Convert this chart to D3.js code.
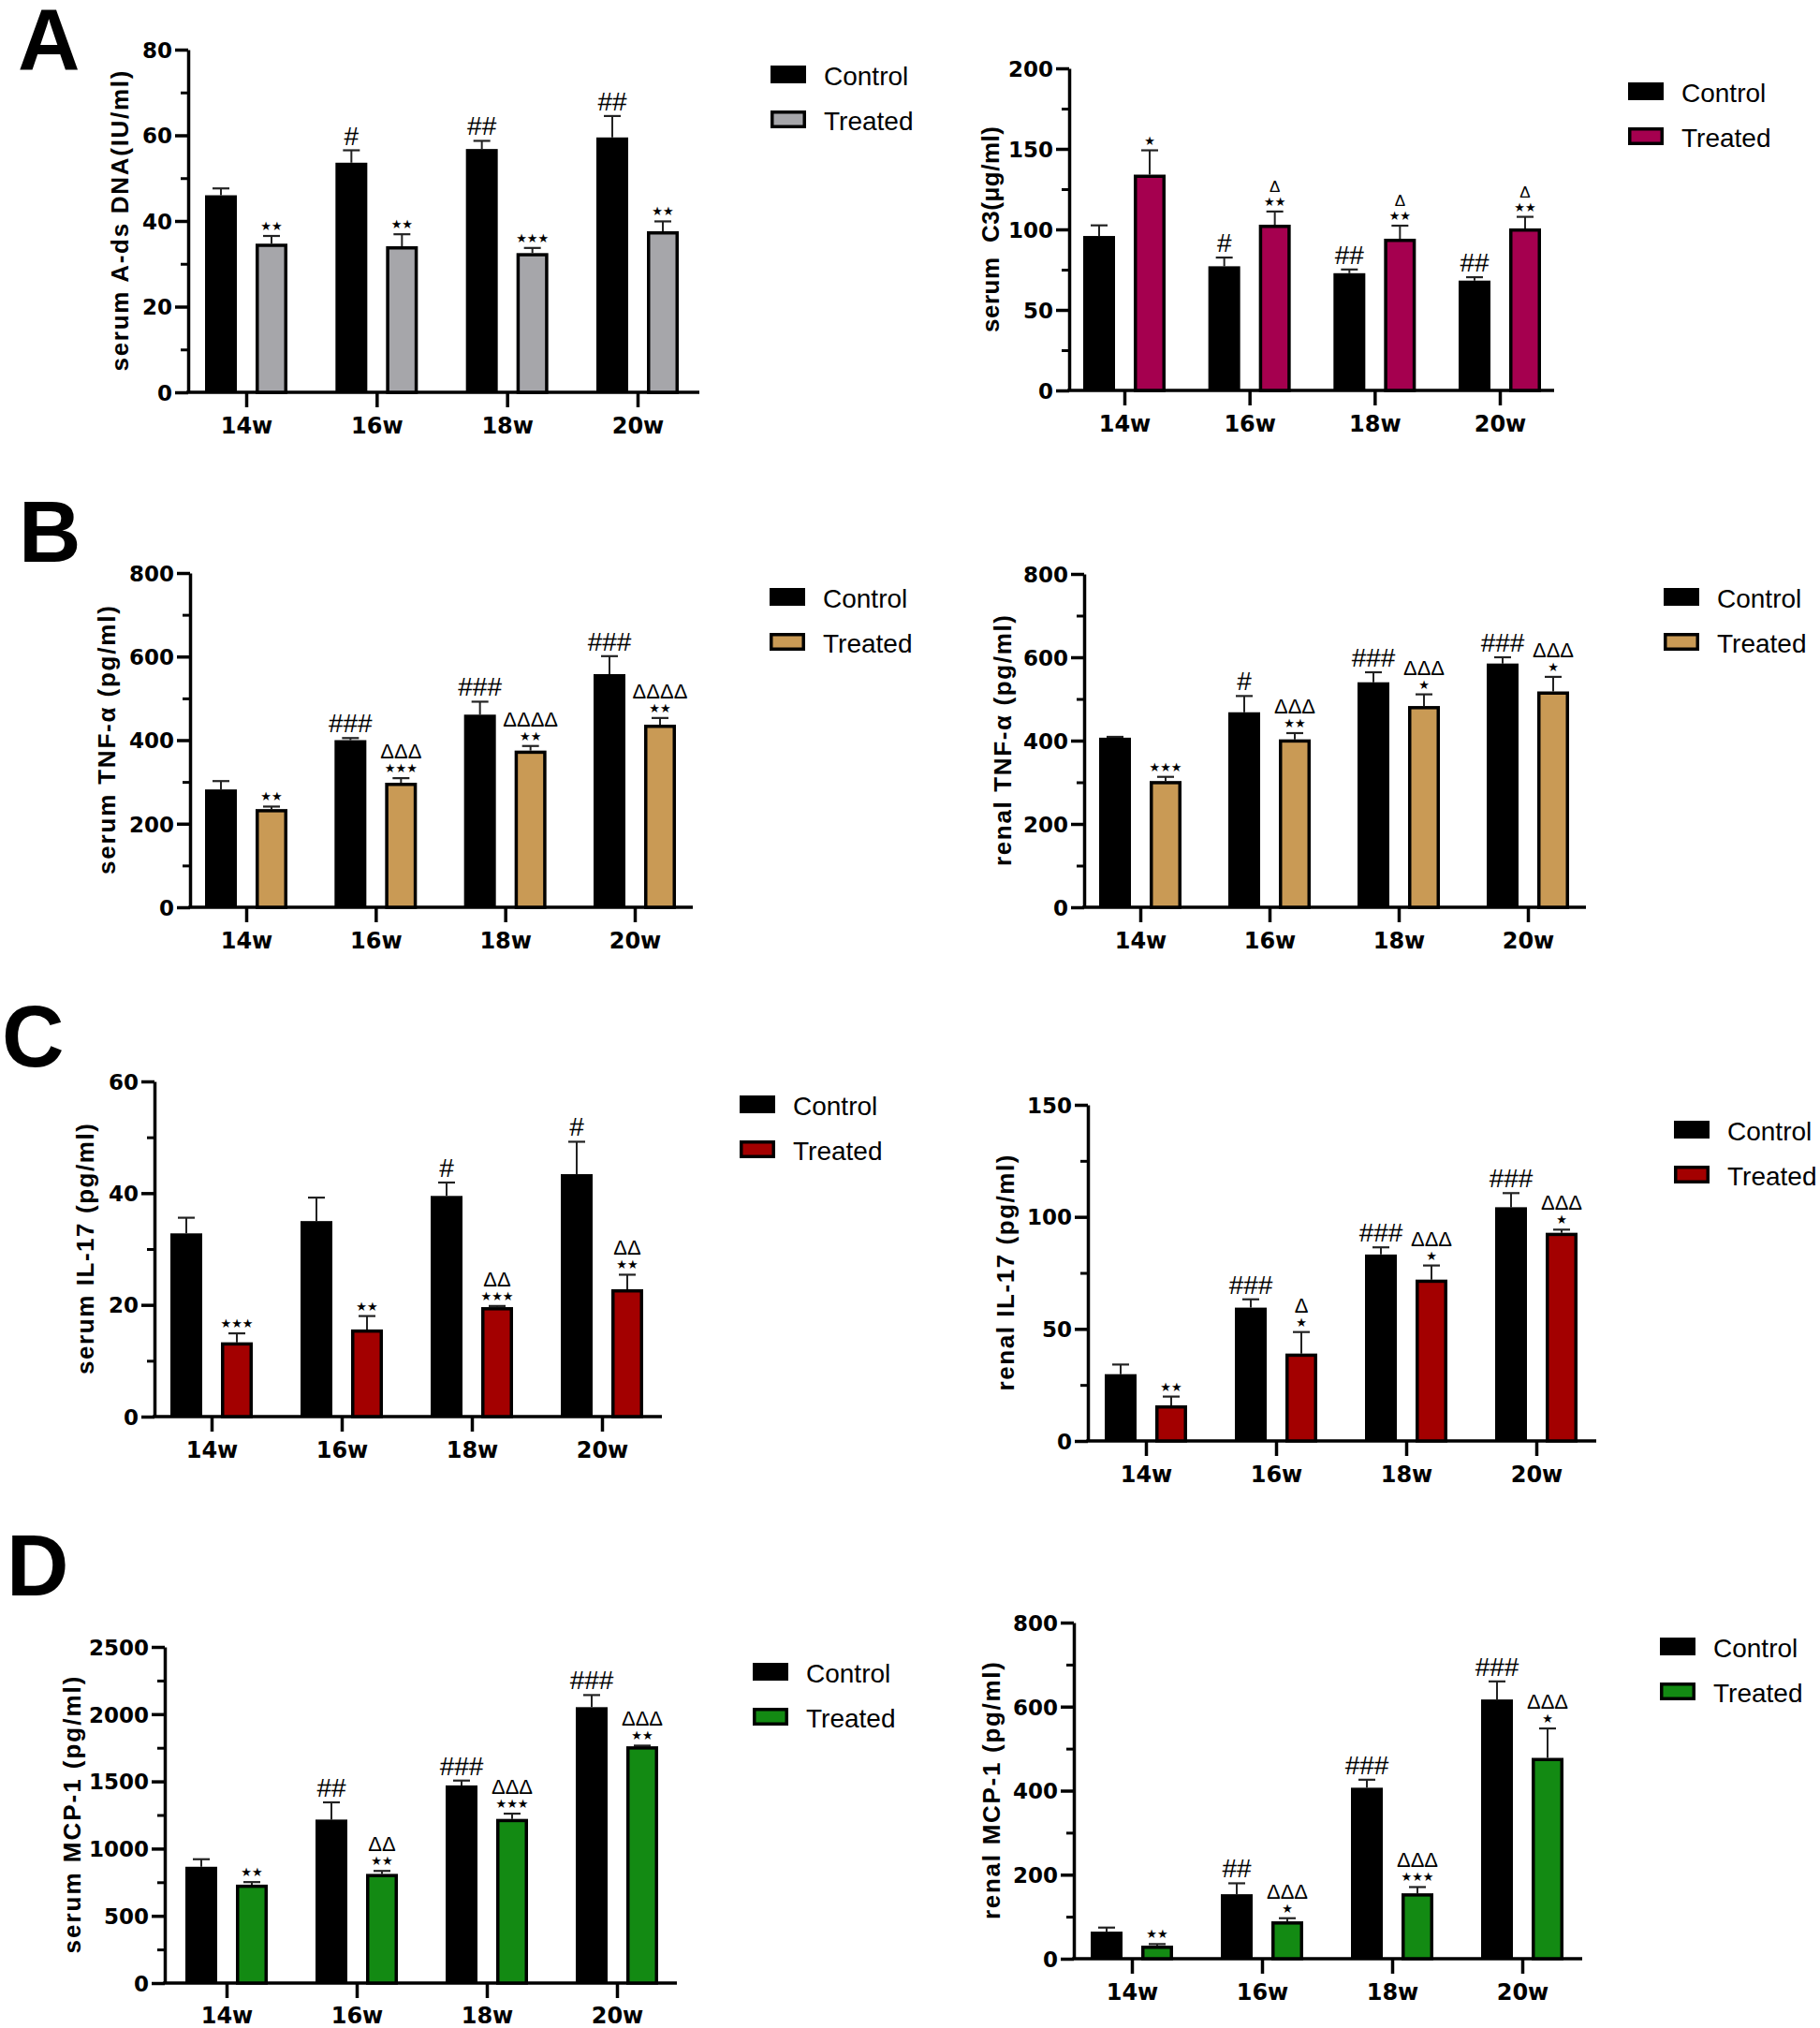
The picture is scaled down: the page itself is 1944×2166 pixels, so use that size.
<!DOCTYPE html>
<html>
<head>
<meta charset="utf-8">
<script src="https://cdn.jsdelivr.net/npm/d3@7"></script>
<style>
  body { margin: 0; background: #ffffff; }
  svg { display: block; }
</style>
</head>
<body>
<svg id="chart" width="1944" height="2166"></svg>
<script>
// ---------------- DATA ----------------
const weeks = ["14w", "16w", "18w", "20w"];
const seriesNames = ["Control", "Treated"];

// A (left): serum A-ds DNA
const adsTicks = [0, 20, 40, 60, 80];
const adsControl = [46.0, 53.6, 56.8, 59.5];
const adsControlErr = [1.6, 2.9, 1.9, 5.0];
const adsTreated = [34.7, 34.1, 32.5, 37.6];
const adsTreatedErr = [1.8, 2.8, 1.2, 2.3];
const adsControlSig = ["", "#", "##", "##"];
const adsTreatedSig = ["**", "**", "***", "**"];
const adsTreatedDelta = ["", "", "", ""];

// A (right): serum C3
const c3Ticks = [0, 50, 100, 150, 200];
const c3Control = [95.9, 77.1, 72.8, 68.2];
const c3ControlErr = [6.6, 5.4, 2.3, 2.1];
const c3Treated = [134.0, 102.9, 94.2, 100.6];
const c3TreatedErr = [15.1, 8.2, 8.1, 7.2];
const c3ControlSig = ["", "#", "##", "##"];
const c3TreatedSig = ["*", "**", "**", "**"];
const c3TreatedDelta = ["", "Δ", "Δ", "Δ"];

// B (left): serum TNF-α
const sTnfTicks = [0, 200, 400, 600, 800];
const sTnfControl = [282, 400, 461, 558];
const sTnfControlErr = [20, 5, 31, 43];
const sTnfTreated = [235, 298, 375, 437];
const sTnfTreatedErr = [6, 11, 11, 16];
const sTnfControlSig = ["", "###", "###", "###"];
const sTnfTreatedSig = ["**", "***", "**", "**"];
const sTnfTreatedDelta = ["", "ΔΔΔ", "ΔΔΔΔ", "ΔΔΔΔ"];

// B (right): renal TNF-α
const rTnfTicks = [0, 200, 400, 600, 800];
const rTnfControl = [407, 468, 540, 585];
const rTnfControlErr = [2, 39, 24, 15];
const rTnfTreated = [303, 403, 483, 518];
const rTnfTreatedErr = [10, 15, 28, 35];
const rTnfControlSig = ["", "#", "###", "###"];
const rTnfTreatedSig = ["***", "**", "*", "*"];
const rTnfTreatedDelta = ["", "ΔΔΔ", "ΔΔΔ", "ΔΔΔ"];

// C (left): serum IL-17
const sIl17Ticks = [0, 20, 40, 60];
const sIl17Control = [32.8, 35.0, 39.5, 43.4];
const sIl17ControlErr = [2.8, 4.2, 2.4, 5.8];
const sIl17Treated = [13.3, 15.6, 19.6, 22.8];
const sIl17TreatedErr = [1.6, 2.4, 0.2, 2.6];
const sIl17ControlSig = ["", "", "#", "#"];
const sIl17TreatedSig = ["***", "**", "***", "**"];
const sIl17TreatedDelta = ["", "", "ΔΔ", "ΔΔ"];

// C (right): renal IL-17
const rIl17Ticks = [0, 50, 100, 150];
const rIl17Control = [29.8, 59.5, 83.2, 104.3];
const rIl17ControlErr = [4.3, 3.7, 3.2, 6.3];
const rIl17Treated = [15.9, 39.0, 72.0, 92.9];
const rIl17TreatedErr = [3.9, 9.6, 6.3, 1.4];
const rIl17ControlSig = ["", "###", "###", "###"];
const rIl17TreatedSig = ["**", "*", "*", "*"];
const rIl17TreatedDelta = ["", "Δ", "ΔΔΔ", "ΔΔΔ"];

// D (left): serum MCP-1
const sMcpTicks = [0, 500, 1000, 1500, 2000, 2500];
const sMcpControl = [865, 1216, 1470, 2052];
const sMcpControlErr = [56, 128, 36, 90];
const sMcpTreated = [732, 812, 1221, 1761];
const sMcpTreatedErr = [19, 22, 39, 5];
const sMcpControlSig = ["", "##", "###", "###"];
const sMcpTreatedSig = ["**", "**", "***", "**"];
const sMcpTreatedDelta = ["", "ΔΔ", "ΔΔΔ", "ΔΔΔ"];

// D (right): renal MCP-1
const rMcpTicks = [0, 200, 400, 600, 800];
const rMcpControl = [64.5, 153.5, 407, 617];
const rMcpControlErr = [9.6, 26, 19, 43];
const rMcpTreated = [31.1, 89.0, 155.7, 478];
const rMcpTreatedErr = [3.7, 7.4, 14.8, 70];
const rMcpControlSig = ["", "##", "###", "###"];
const rMcpTreatedSig = ["**", "*", "***", "*"];
const rMcpTreatedDelta = ["", "ΔΔΔ", "ΔΔΔ", "ΔΔΔ"];

// ---------------- PANELS (data refs + layout) ----------------
const panels = [
  { letter: "A", lx0: 19, lb: 74, title: "serum A-ds DNA(IU/ml)", ticks: adsTicks,
    control: adsControl, controlErr: adsControlErr, treated: adsTreated, treatedErr: adsTreatedErr,
    controlSig: adsControlSig, treatedSig: adsTreatedSig, treatedDelta: adsTreatedDelta,
    color: "#a6a6aa", ax: 201, yTop: 53, yBot: 419, c0: 263, c1: 681, xEnd: 747,
    tx: 128, tlen: 321, legX: 823, legY: 70, dSize: 22 },
  { title: "serum  C3(μg/ml)", ticks: c3Ticks,
    control: c3Control, controlErr: c3ControlErr, treated: c3Treated, treatedErr: c3TreatedErr,
    controlSig: c3ControlSig, treatedSig: c3TreatedSig, treatedDelta: c3TreatedDelta,
    color: "#a5004f", ax: 1142, yTop: 73, yBot: 417, c0: 1201, c1: 1602, xEnd: 1660,
    tx: 1058, tlen: 220, legX: 1739, legY: 88, dSize: 17 },
  { letter: "B", lx0: 20, lb: 600, title: "serum TNF-α (pg/ml)", ticks: sTnfTicks,
    control: sTnfControl, controlErr: sTnfControlErr, treated: sTnfTreated, treatedErr: sTnfTreatedErr,
    controlSig: sTnfControlSig, treatedSig: sTnfTreatedSig, treatedDelta: sTnfTreatedDelta,
    color: "#c99a55", ax: 203, yTop: 612, yBot: 969, c0: 263, c1: 678, xEnd: 740,
    tx: 114, tlen: 287, legX: 822, legY: 628, dSize: 22 },
  { title: "renal TNF-α (pg/ml)", ticks: rTnfTicks,
    control: rTnfControl, controlErr: rTnfControlErr, treated: rTnfTreated, treatedErr: rTnfTreatedErr,
    controlSig: rTnfControlSig, treatedSig: rTnfTreatedSig, treatedDelta: rTnfTreatedDelta,
    color: "#c99a55", ax: 1158, yTop: 613, yBot: 969, c0: 1218, c1: 1632, xEnd: 1694,
    tx: 1071, tlen: 268, legX: 1777, legY: 628, dSize: 22 },
  { letter: "C", lx0: 2, lb: 1139, title: "serum IL-17 (pg/ml)", ticks: sIl17Ticks,
    control: sIl17Control, controlErr: sIl17ControlErr, treated: sIl17Treated, treatedErr: sIl17TreatedErr,
    controlSig: sIl17ControlSig, treatedSig: sIl17TreatedSig, treatedDelta: sIl17TreatedDelta,
    color: "#a30000", ax: 165, yTop: 1155, yBot: 1513, c0: 226, c1: 643, xEnd: 707,
    tx: 91, tlen: 268, legX: 790, legY: 1170, dSize: 22 },
  { title: "renal IL-17 (pg/ml)", ticks: rIl17Ticks,
    control: rIl17Control, controlErr: rIl17ControlErr, treated: rIl17Treated, treatedErr: rIl17TreatedErr,
    controlSig: rIl17ControlSig, treatedSig: rIl17TreatedSig, treatedDelta: rIl17TreatedDelta,
    color: "#a30000", ax: 1162, yTop: 1180, yBot: 1539, c0: 1224, c1: 1641, xEnd: 1705,
    tx: 1074, tlen: 252, legX: 1788, legY: 1197, dSize: 22 },
  { letter: "D", lx0: 7, lb: 1704, title: "serum MCP-1 (pg/ml)", ticks: sMcpTicks,
    control: sMcpControl, controlErr: sMcpControlErr, treated: sMcpTreated, treatedErr: sMcpTreatedErr,
    controlSig: sMcpControlSig, treatedSig: sMcpTreatedSig, treatedDelta: sMcpTreatedDelta,
    color: "#138a13", ax: 176, yTop: 1759, yBot: 2118, c0: 242, c1: 659, xEnd: 723,
    tx: 77, tlen: 296, legX: 804, legY: 1776, dSize: 22 },
  { title: "renal MCP-1 (pg/ml)", ticks: rMcpTicks,
    control: rMcpControl, controlErr: rMcpControlErr, treated: rMcpTreated, treatedErr: rMcpTreatedErr,
    controlSig: rMcpControlSig, treatedSig: rMcpTreatedSig, treatedDelta: rMcpTreatedDelta,
    color: "#138a13", ax: 1147, yTop: 1733, yBot: 2092, c0: 1209, c1: 1626, xEnd: 1690,
    tx: 1059, tlen: 275, legX: 1773, legY: 1749, dSize: 22 }
];

// ---------------- DRAW ----------------
const svg = d3.select("#chart");
svg.append("rect").attr("width", 1944).attr("height", 2166).attr("fill", "#fff");

const SW = 3.5;        // axis / outline stroke
const BW = 34;         // bar width
const OFF = 27;        // bar offset from category centre
const TICK_FONT = "DejaVu Sans, Verdana, sans-serif";
const TEXT_FONT = "Liberation Sans, Arial, Helvetica, sans-serif";

function drawPanel(p) {
  const g = svg.append("g");
  const ymax = p.ticks[p.ticks.length - 1];
  const y = d3.scaleLinear().domain([0, ymax]).range([p.yBot, p.yTop]);
  const x = d3.scalePoint().domain(weeks).range([p.c0, p.c1]);

  if (p.letter) {
    g.append("text").attr("x", p.lx0).attr("y", p.lb)
      .attr("font-family", TEXT_FONT).attr("font-weight", "bold").attr("font-size", 92)
      .attr("fill", "#000").text(p.letter);
  }

  // minor ticks
  const minor = d3.pairs(p.ticks).map(([a, b]) => (a + b) / 2);
  const gm = g.append("g").attr("transform", `translate(${p.ax},0)`)
    .call(d3.axisLeft(y).tickValues(minor).tickSize(8).tickFormat(""));
  gm.select(".domain").remove();
  gm.selectAll(".tick line").attr("stroke", "#000").attr("stroke-width", 3);

  // major y axis
  const gy = g.append("g").attr("transform", `translate(${p.ax},0)`)
    .call(d3.axisLeft(y).tickValues(p.ticks).tickFormat(d3.format("d"))
      .tickSize(14).tickSizeOuter(0).tickPadding(3));
  gy.select(".domain").attr("stroke", "#000").attr("stroke-width", SW);
  gy.selectAll(".tick line").attr("stroke", "#000").attr("stroke-width", SW);
  gy.selectAll(".tick text")
    .attr("font-family", TICK_FONT).attr("font-weight", "bold").attr("font-size", 23)
    .attr("fill", "#000").attr("dy", "0.36em");

  // x axis
  g.append("line").attr("x1", p.ax - SW / 2).attr("x2", p.xEnd)
    .attr("y1", p.yBot).attr("y2", p.yBot)
    .attr("stroke", "#000").attr("stroke-width", SW);
  const gx = g.append("g").attr("transform", `translate(0,${p.yBot})`)
    .call(d3.axisBottom(x).tickSize(16).tickSizeOuter(0));
  gx.select(".domain").remove();
  gx.selectAll(".tick line").attr("stroke", "#000").attr("stroke-width", SW);
  gx.selectAll(".tick text")
    .attr("y", Math.min(44, 2166 - 5 - p.yBot)).attr("dy", null)
    .attr("font-family", TICK_FONT).attr("font-weight", "bold").attr("font-size", 24)
    .attr("fill", "#000");

  // y title
  g.append("text")
    .attr("transform", `translate(${p.tx},${(p.yTop + p.yBot) / 2}) rotate(-90)`)
    .attr("text-anchor", "middle").attr("dy", "0.36em")
    .attr("font-family", TEXT_FONT).attr("font-weight", "bold").attr("font-size", 26)
    .attr("textLength", p.tlen).attr("lengthAdjust", "spacing")
    .style("white-space", "pre")
    .attr("fill", "#000").text(p.title);

  const rows = weeks.map((w, i) => ({
    w, c: p.control[i], ce: p.controlErr[i], t: p.treated[i], te: p.treatedErr[i],
    cs: p.controlSig[i], ts: p.treatedSig[i], td: p.treatedDelta[i]
  }));

  // error bars
  const eb = g.append("g");
  rows.forEach(d => {
    [[x(d.w) - OFF, d.c, d.ce], [x(d.w) + OFF, d.t, d.te]].forEach(([cx, v, e]) => {
      eb.append("line").attr("x1", cx).attr("x2", cx).attr("y1", y(v)).attr("y2", y(v + e))
        .attr("stroke", "#222").attr("stroke-width", 2);
      eb.append("line").attr("x1", cx - 9).attr("x2", cx + 9).attr("y1", y(v + e)).attr("y2", y(v + e))
        .attr("stroke", "#222").attr("stroke-width", 2.2);
    });
  });

  // control bars
  g.append("g").selectAll("rect").data(rows).join("rect")
    .attr("x", d => x(d.w) - OFF - BW / 2)
    .attr("y", d => y(d.c))
    .attr("width", BW)
    .attr("height", d => p.yBot - y(d.c))
    .attr("fill", "#000");

  // treated bars
  g.append("g").selectAll("rect").data(rows).join("rect")
    .attr("x", d => x(d.w) + OFF - BW / 2 + SW / 2)
    .attr("y", d => y(d.t) + SW / 2)
    .attr("width", BW - SW)
    .attr("height", d => p.yBot - y(d.t) - SW / 2)
    .attr("fill", p.color).attr("stroke", "#000").attr("stroke-width", SW);

  // annotations
  const an = g.append("g").attr("text-anchor", "middle").attr("fill", "#000");
  rows.forEach(d => {
    if (d.cs) {
      an.append("text").attr("x", x(d.w) - OFF).attr("y", y(d.c + d.ce) - 6)
        .attr("font-family", TEXT_FONT).attr("font-size", 28).text(d.cs);
    }
    if (d.ts) {
      an.append("text").attr("x", x(d.w) + OFF).attr("y", y(d.t + d.te) - 6)
        .attr("font-family", TICK_FONT).attr("font-size", 13)
        .text(d.ts.replace(/\*/g, "★"));
    }
    if (d.td) {
      an.append("text").attr("x", x(d.w) + OFF).attr("y", y(d.t + d.te) - 21)
        .attr("font-family", TEXT_FONT).attr("font-size", p.dSize).text(d.td);
    }
  });

  // legend
  const lg = g.append("g");
  seriesNames.forEach((name, i) => {
    lg.append("rect")
      .attr("x", p.legX + SW / 2).attr("y", p.legY + i * 48 + SW / 2)
      .attr("width", 38 - SW).attr("height", 19 - SW)
      .attr("fill", i === 0 ? "#000" : p.color)
      .attr("stroke", "#000").attr("stroke-width", SW);
    lg.append("text")
      .attr("x", p.legX + 57).attr("y", p.legY + i * 48 + 21)
      .attr("font-family", TEXT_FONT).attr("font-size", 28).attr("fill", "#000")
      .text(name);
  });
}

panels.forEach(drawPanel);
</script>
</body>
</html>
